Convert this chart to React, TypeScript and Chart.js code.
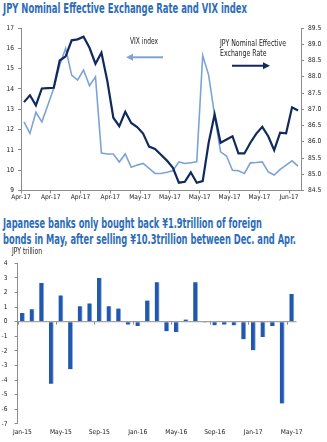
import React, { useEffect, useRef } from 'react';
import { Chart, registerables } from 'chart.js';

Chart.register(...registerables);

const NARROW = "'Liberation Sans Narrow', 'Arial Narrow', 'DejaVu Sans Condensed', 'Liberation Sans', Arial, sans-serif";
const TITLE_BLUE = '#2d6cb8';
const NAVY = '#112a5e';
const LIGHT = '#7da3d6';
const AXIS = '#8c8c8c';
const BAR = '#2157ad';
const BAR_EDGE = '#8fb1e2';
const TEXT = '#1a1a1a';

// Top chart: trading-day series (47 points)
const lineTickLabels = ['Apr-17', 'Apr-17', 'Apr-17', 'Apr-17', 'May-17', 'May-17', 'May-17', 'May-17', 'May-17', 'Jun-17'];
const vixIndex = [
  12.38, 11.81, 12.85, 12.38, 13.2, 14.03, 15.18, 16.0, 14.68, 14.44,
  14.93, 14.16, 14.6, 10.84, 10.8, 10.8, 10.4, 10.8, 10.14, 10.25,
  10.33, 10.09, 9.84, 9.84, 9.9, 9.97, 10.41, 10.33, 10.37, 10.41,
  15.64, 14.68, 12.7, 10.9, 10.7, 10.0, 9.97, 9.84, 10.36, 10.38,
  10.41, 9.92, 9.76, 10.04, 10.25, 10.46, 10.2,
];
const jpyNeer = [
  87.22, 87.43, 87.12, 87.64, 87.65, 87.66, 88.5, 88.63, 89.12, 89.15,
  89.23, 88.89, 88.4, 88.74, 87.86, 86.74, 86.48, 86.92, 86.58, 86.45,
  86.25, 85.85, 85.78, 85.6, 85.42, 85.2, 84.74, 84.77, 85.06, 84.74,
  84.79, 85.97, 86.84, 85.97, 86.07, 86.17, 85.64, 85.64, 85.97, 86.25,
  86.46, 86.17, 85.74, 86.28, 86.26, 87.06, 86.96,
];

// Bottom chart: monthly net purchases of foreign bonds (JPY trillion)
const flowMonths = [
  'Jan-15', 'Feb-15', 'Mar-15', 'Apr-15', 'May-15', 'Jun-15', 'Jul-15', 'Aug-15', 'Sep-15', 'Oct-15', 'Nov-15', 'Dec-15',
  'Jan-16', 'Feb-16', 'Mar-16', 'Apr-16', 'May-16', 'Jun-16', 'Jul-16', 'Aug-16', 'Sep-16', 'Oct-16', 'Nov-16', 'Dec-16',
  'Jan-17', 'Feb-17', 'Mar-17', 'Apr-17', 'May-17',
];
const bondFlows = [
  0.6, 0.85, 2.65, -4.25, 1.8, -3.25, 1.05, 1.25, 3.0, 1.05, 0.9, -0.2,
  -0.3, 1.45, 2.7, -0.65, -0.7, 0.15, 2.7, -0.05, -0.25, -0.2, -0.25, -1.2,
  -1.95, -1.05, -0.3, -5.6, 1.9,
];

const tickFont = { family: NARROW, size: 6.6 };

function fitText(ctx: CanvasRenderingContext2D, text: string, x: number, y: number, width: number, size: number) {
  ctx.save();
  ctx.font = `${size}px ${NARROW}`;
  ctx.fillStyle = TEXT;
  ctx.textBaseline = 'middle';
  ctx.textAlign = 'left';
  const w = ctx.measureText(text).width;
  ctx.translate(x, y);
  ctx.scale(w > 0 ? width / w : 1, 1);
  ctx.fillText(text, 0, 0);
  ctx.restore();
}

function arrow(ctx: CanvasRenderingContext2D, x1: number, y: number, x2: number, color: string, w: number) {
  const dir = Math.sign(x2 - x1);
  ctx.save();
  ctx.strokeStyle = color;
  ctx.fillStyle = color;
  ctx.lineWidth = w;
  ctx.beginPath();
  ctx.moveTo(x1, y);
  ctx.lineTo(x2 - dir * 5, y);
  ctx.stroke();
  ctx.beginPath();
  ctx.moveTo(x2, y);
  ctx.lineTo(x2 - dir * 7, y - 3.5);
  ctx.lineTo(x2 - dir * 7, y + 3.5);
  ctx.closePath();
  ctx.fill();
  ctx.restore();
}

const topAnnotations = {
  id: 'topAnnotations',
  afterDraw(chart: any) {
    const ctx = chart.ctx as CanvasRenderingContext2D;
    fitText(ctx, 'VIX index', 130, 24, 28, 8);
    fitText(ctx, 'JPY Nominal Effective', 220, 25.5, 66, 8);
    fitText(ctx, 'Exchange Rate', 220, 35.5, 46.5, 8);
    arrow(ctx, 163, 39.3, 126, LIGHT, 2);
    arrow(ctx, 232, 47.7, 270, NAVY, 2);
  },
};

const bottomDecor = {
  id: 'bottomDecor',
  afterDatasetsDraw(chart: any) {
    const ctx = chart.ctx as CanvasRenderingContext2D;
    const x = chart.scales.x;
    const y = chart.scales.y;
    const y0 = y.getPixelForValue(0);
    const half = (x.getPixelForValue(1) - x.getPixelForValue(0)) / 2;
    ctx.save();
    ctx.strokeStyle = AXIS;
    ctx.lineWidth = 1;
    ctx.beginPath();
    ctx.moveTo(chart.chartArea.left, y0);
    ctx.lineTo(chart.chartArea.right, y0);
    for (let i = 0; i < flowMonths.length; i += 4) {
      const px = Math.round(x.getPixelForValue(i) - half) + 0.5;
      ctx.moveTo(px, y0);
      ctx.lineTo(px, y0 + 3);
    }
    ctx.stroke();
    ctx.restore();
    fitText(ctx, 'JPY trillion', 12, 8, 30, 8);
  },
};

const titleStyle = (top: number): React.CSSProperties => ({
  position: 'absolute',
  left: 3,
  top,
  font: `bold 14px ${NARROW}`,
  lineHeight: '16px',
  color: TITLE_BLUE,
  whiteSpace: 'nowrap',
  transformOrigin: '0 50%',
  display: 'inline-block',
});

export default function App() {
  const topRef = useRef<HTMLCanvasElement>(null);
  const botRef = useRef<HTMLCanvasElement>(null);
  const t1 = useRef<HTMLSpanElement>(null);
  const t2 = useRef<HTMLSpanElement>(null);
  const t3 = useRef<HTMLSpanElement>(null);

  useEffect(() => {
    const fits: [React.RefObject<HTMLSpanElement | null>, number][] = [[t1, 244], [t2, 259], [t3, 293]];
    fits.forEach(([r, target]) => {
      const el = r.current;
      if (el) {
        el.style.transform = 'none';
        const w = el.getBoundingClientRect().width;
        if (w > 0) el.style.transform = `scaleX(${target / w})`;
      }
    });

    const yTick = (extra: any) => ({ font: tickFont, color: TEXT, ...extra });

    const top = new Chart(topRef.current!, {
      type: 'line',
      data: {
        datasets: [
          {
            label: 'JPY Nominal Effective Exchange Rate',
            data: jpyNeer.map((v, i) => ({ x: i + 0.5, y: v })),
            yAxisID: 'y1',
            borderColor: NAVY,
            borderWidth: 2.2,
            pointRadius: 0,
            tension: 0,
          },
          {
            label: 'VIX index',
            data: vixIndex.map((v, i) => ({ x: i + 0.5, y: v })),
            yAxisID: 'y',
            borderColor: LIGHT,
            borderWidth: 1.6,
            pointRadius: 0,
            tension: 0,
          },
        ],
      },
      options: {
        responsive: false,
        animation: false,
        layout: { padding: { top: 10, left: 0, right: 0, bottom: 0 } },
        plugins: { legend: { display: false }, tooltip: { enabled: false } },
        scales: {
          x: {
            type: 'linear',
            min: 0,
            max: vixIndex.length,
            afterBuildTicks: (s: any) => {
              s.ticks = lineTickLabels.map((_, k) => ({ value: k * 5 }));
            },
            afterFit: (s: any) => { s.height = 19.5; },
            ticks: {
              autoSkip: false,
              maxRotation: 0,
              padding: 0,
              font: tickFont,
              color: TEXT,
              callback: (v: any) => lineTickLabels[Math.round(Number(v) / 5)] ?? '',
            },
            grid: { drawOnChartArea: false, drawTicks: true, tickLength: 3, color: AXIS },
            border: { color: AXIS },
          },
          y: {
            position: 'left',
            min: 9,
            max: 17,
            afterFit: (s: any) => { s.width = 21; },
            ticks: yTick({ stepSize: 1, padding: 4 }),
            grid: { drawOnChartArea: false, tickLength: 3, color: AXIS },
            border: { color: AXIS },
          },
          y1: {
            position: 'right',
            min: 84.5,
            max: 89.5,
            afterFit: (s: any) => { s.width = 26; },
            ticks: yTick({ stepSize: 0.5, padding: 4 }),
            grid: { drawOnChartArea: false, tickLength: 3, color: AXIS },
            border: { color: AXIS },
          },
        },
      } as any,
      plugins: [topAnnotations],
    });

    const bot = new Chart(botRef.current!, {
      type: 'bar',
      data: {
        labels: flowMonths,
        datasets: [
          {
            label: 'Net purchases',
            data: bondFlows,
            backgroundColor: BAR,
            borderColor: BAR_EDGE,
            borderWidth: { top: 0, left: 0, bottom: 0, right: 1 },
            borderSkipped: false,
            barThickness: 4.5,
          },
        ],
      },
      options: {
        responsive: false,
        animation: false,
        layout: { padding: { top: 19.3, right: 30.5, left: 0, bottom: 0 } },
        plugins: { legend: { display: false }, tooltip: { enabled: false } },
        scales: {
          x: {
            afterFit: (s: any) => { s.height = 18.1; },
            ticks: {
              autoSkip: false,
              maxRotation: 0,
              padding: 4,
              font: tickFont,
              color: TEXT,
              callback: (_v: any, i: number) => (i % 4 === 0 ? flowMonths[i] : ''),
            },
            grid: { display: false, drawTicks: false },
            border: { display: false },
          },
          y: {
            min: -7,
            max: 4,
            afterFit: (s: any) => { s.width = 17.5; },
            ticks: yTick({ stepSize: 1, padding: 7 }),
            grid: { drawOnChartArea: false, tickLength: 3, color: AXIS },
            border: { color: AXIS },
          },
        },
      } as any,
      plugins: [bottomDecor],
    });

    return () => {
      top.destroy();
      bot.destroy();
    };
  }, []);

  return (
    <div style={{ position: 'absolute', left: 0, top: 0, width: 327, height: 442, background: '#fff', overflow: 'hidden' }}>
      <span ref={t1} style={titleStyle(0)}>JPY Nominal Effective Exchange Rate and VIX index</span>
      <canvas ref={topRef} width={327} height={192} style={{ position: 'absolute', left: 0, top: 18 }} />
      <span ref={t2} style={titleStyle(215)}>Japanese banks only bought back ¥1.9trillion of foreign</span>
      <span ref={t3} style={titleStyle(231)}>bonds in May, after selling ¥10.3trillion between Dec. and Apr.</span>
      <canvas ref={botRef} width={327} height={198} style={{ position: 'absolute', left: 0, top: 244 }} />
    </div>
  );
}
